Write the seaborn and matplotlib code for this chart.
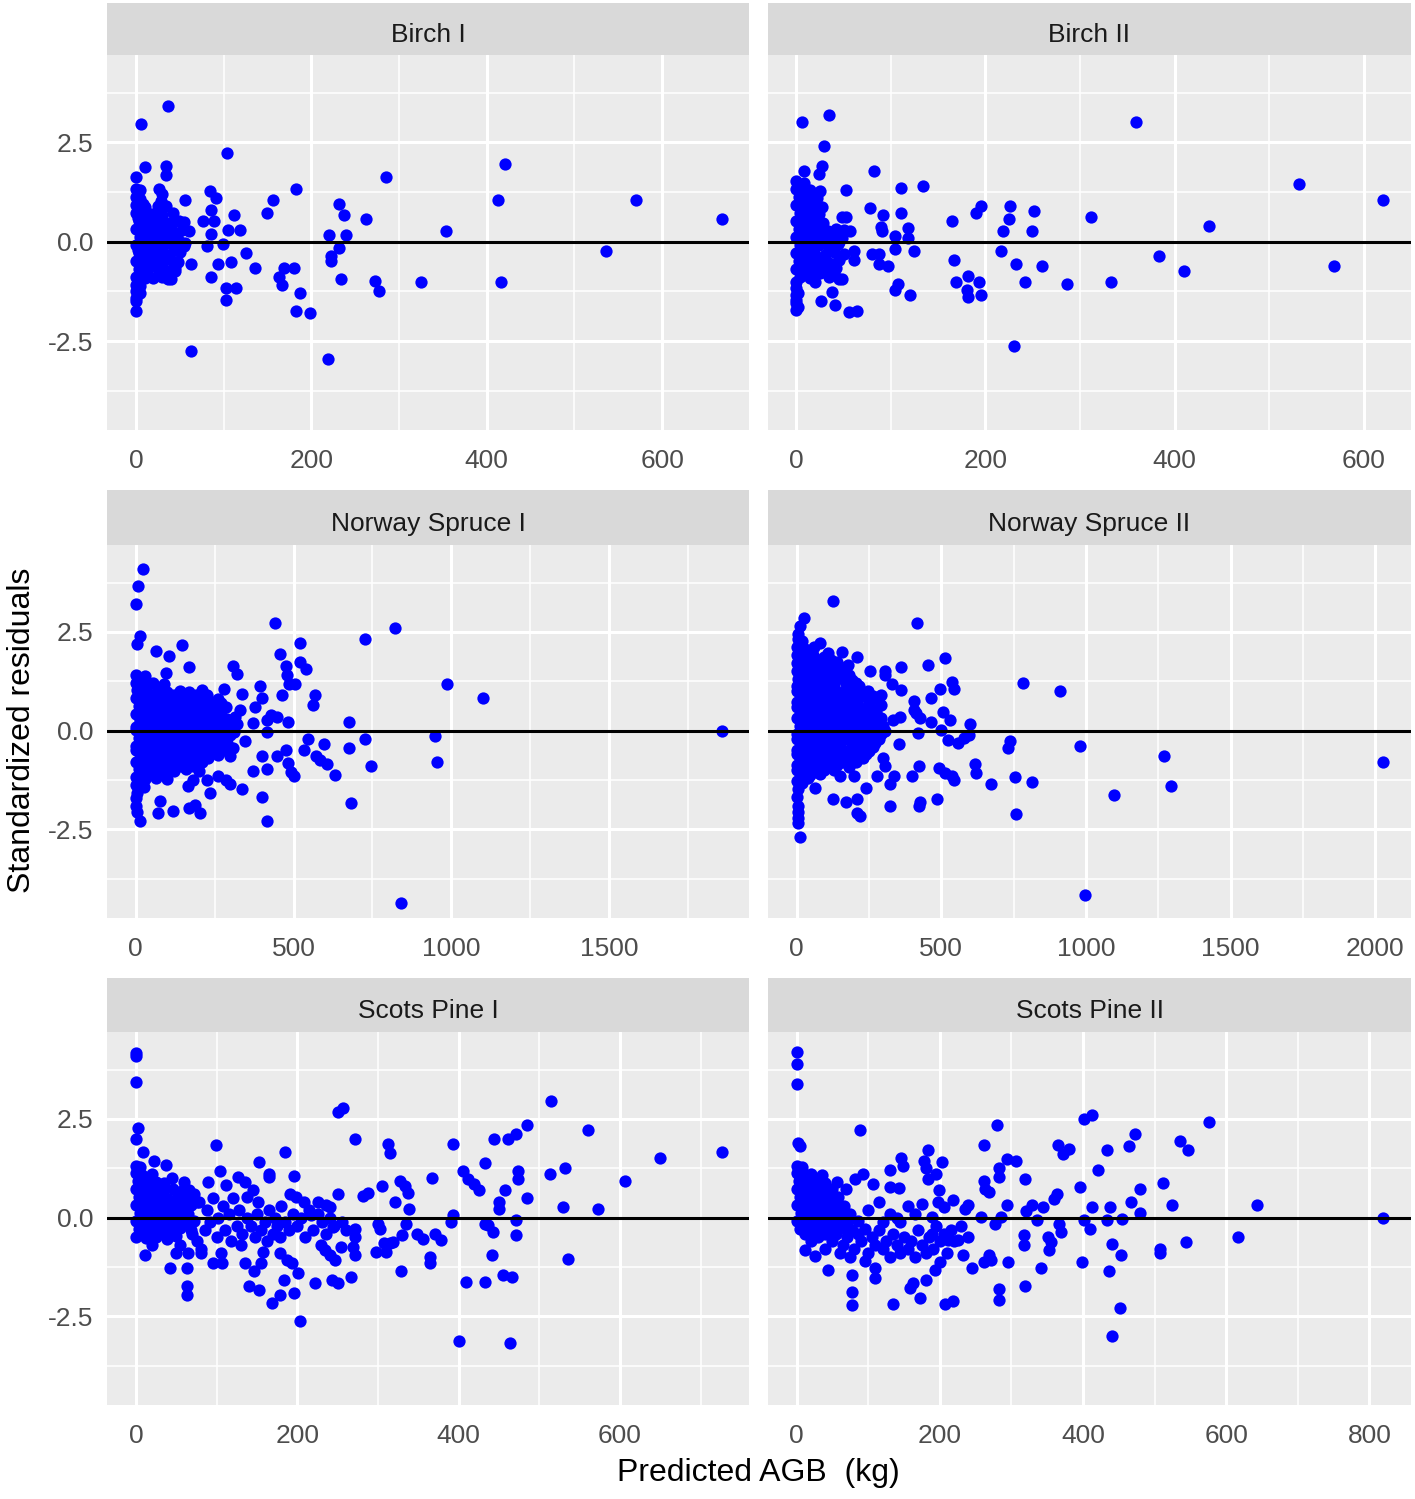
import pandas as pd
import matplotlib
matplotlib.use("Agg")
import matplotlib.pyplot as plt
import seaborn as sns

# facet titles, in row order
panels = ["Birch I", "Birch II", "Norway Spruce I", "Norway Spruce II", "Scots Pine I", "Scots Pine II"]

# (predicted AGB, standardized residual)
birch_1 = [
    (36, 3.41), (6, 2.97), (104, 2.23), (421, 1.96), (285, 1.62), (182, 1.33), (413, 1.06), (570, 1.06), (668, 0.56), (353, 0.28),
    (156, 1.06), (149, 0.73), (56, 1.06), (232, 0.96), (237, 0.67), (262, 0.56), (220, 0.17), (240, 0.17), (232, -0.15), (222, -0.36),
    (222, -0.49), (234, -0.95), (272, -1.0), (277, -1.23), (325, -1.01), (416, -1.01), (536, -0.23), (219, -2.96), (63, -2.74), (182, -1.74),
    (199, -1.80), (187, -1.29), (169, -0.66), (180, -0.66), (163, -0.89), (167, -1.08), (136, -0.67), (126, -0.28), (108, -0.51), (93, -0.56),
    (86, -0.89), (103, -1.16), (114, -1.16), (103, -1.46), (99, -0.07), (81, -0.11), (105, 0.29), (119, 0.29), (112, 0.67), (86, 0.79),
    (76, 0.52), (89, 0.52), (86, 0.19), (85, 1.28), (91, 1.11), (63, -0.56), (56, -0.03), (49, 0.52), (60, 0.27), (34, 1.91),
    (34, 1.69), (10, 1.87), (0, 1.64), (5, 1.30), (26, 1.32), (30, 1.20), (28, 1.03), (34, 0.90), (8, 0.94), (20, -0.91),
    (37, -0.95), (44, -0.74), (0, -1.25), (0, -1.5), (0, -1.75), (5, -1.29),
    (0, 1.12), (5, 1.08), (0, 1.32), (0, 0.92), (10, 0.88), (25, 0.91),
    (0, 0.72), (8, 0.68), (18, 0.71), (30, 0.67), (42, 0.73),
    (3, 0.52), (12, 0.48), (22, 0.51), (35, 0.47), (45, 0.53), (55, 0.49),
    (0, 0.32), (9, 0.28), (20, 0.31), (28, 0.27), (40, 0.33), (52, 0.29),
    (5, 0.12), (14, 0.08), (25, 0.11), (33, 0.07), (47, 0.13),
    (0, -0.08), (10, -0.12), (20, -0.09), (30, -0.13), (40, -0.07), (55, -0.11),
    (4, -0.28), (15, -0.32), (24, -0.29), (36, -0.33), (50, -0.27),
    (0, -0.48), (9, -0.52), (19, -0.49), (30, -0.53), (40, -0.47), (48, -0.51),
    (3, -0.68), (13, -0.72), (25, -0.69), (36, -0.73), (45, -0.67),
    (0, -0.88), (10, -0.92), (30, -0.89), (40, -0.93), (0, -1.08), (5, -1.12), (0, -1.42),
    (2, 0.6), (15, 0.6), (28, 0.5), (6, 0.2), (17, 0.2), (35, 0.2), (2, -0.2), (12, -0.2), (26, -0.2), (45, -0.2),
    (7, -0.4), (20, -0.4), (33, -0.4), (5, -0.6), (17, -0.6), (28, -0.8), (15, 0.0), (50, 0.0),
]

birch_2 = [
    (6, 3.01), (34, 3.20), (359, 3.01), (29, 2.42), (82, 1.79), (8, 1.79), (27, 1.91), (24, 1.70), (532, 1.46), (620, 1.06),
    (134, 1.40), (111, 1.34), (52, 1.30), (436, 0.39), (312, 0.62), (226, 0.89), (251, 0.78), (225, 0.56), (249, 0.27), (218, 0.27),
    (195, 0.90), (190, 0.72), (165, 0.51), (78, 0.84), (111, 0.73), (92, 0.67), (90, 0.37), (91, 0.27), (118, 0.35), (118, 0.10),
    (104, 0.14), (124, -0.24), (104, -0.18), (384, -0.35), (410, -0.73), (569, -0.61), (333, -1.01), (286, -1.06), (260, -0.61), (242, -1.01),
    (232, -0.56), (216, -0.24), (167, -0.45), (169, -1.01), (182, -0.87), (193, -1.01), (180, -1.21), (181, -1.39), (195, -1.33), (230, -2.62),
    (108, -1.06), (104, -1.22), (120, -1.33), (87, -0.32), (80, -0.32), (87, -0.57), (97, -0.62), (61, -0.24), (61, -0.45), (48, -0.95),
    (38, -1.27), (26, -1.50), (41, -1.59), (56, -1.78), (64, -1.74), (20, -1.01), (0, -1.16), (0, -1.35), (0, -1.55), (0, -1.72),
    (48, 0.61), (52, 0.61), (57, 0.27),
    (0, 1.52), (8, 1.48), (0, 1.32), (6, 1.28), (14, 1.31), (25, 1.27),
    (3, 1.12), (12, 1.08), (22, 1.11), (0, 0.92), (8, 0.88), (18, 0.91), (27, 0.87),
    (4, 0.72), (14, 0.68), (24, 0.71), (0, 0.52), (9, 0.48), (18, 0.51), (28, 0.47),
    (3, 0.32), (12, 0.28), (22, 0.31), (33, 0.27), (42, 0.33), (50, 0.29),
    (0, 0.12), (8, 0.08), (18, 0.11), (28, 0.07), (38, 0.13), (48, 0.09),
    (4, -0.08), (14, -0.12), (24, -0.09), (34, -0.13), (44, -0.07),
    (0, -0.28), (9, -0.32), (19, -0.29), (30, -0.33), (40, -0.27), (50, -0.31),
    (3, -0.48), (13, -0.52), (23, -0.49), (35, -0.53), (45, -0.47),
    (0, -0.68), (8, -0.72), (18, -0.69), (32, -0.73), (42, -0.67),
    (4, -0.88), (14, -0.92), (35, -0.89), (45, -0.93),
    (0, -1.02), (2, -1.3), (0, -1.48), (2, -1.65),
    (4, 1.4), (10, 1.2), (5, 1.0), (13, 0.8), (6, 0.6), (20, 0.6), (5, 0.4), (16, 0.4), (26, 0.2), (36, 0.2),
    (13, 0.0), (25, 0.0), (45, 0.0), (5, -0.2), (25, -0.4), (45, -0.4), (10, -0.6), (28, -0.6), (25, -0.8), (40, -0.8),
]

spruce_1 = [
    (23, 4.10), (8, 3.66), (1, 3.21), (441, 2.72), (822, 2.61), (727, 2.33), (519, 2.21), (147, 2.18), (13, 2.40), (3, 2.19),
    (65, 2.01), (104, 1.90), (457, 1.94), (476, 1.65), (519, 1.73), (541, 1.56), (169, 1.62), (309, 1.65), (322, 1.44), (97, 1.46),
    (480, 1.40), (487, 1.19), (506, 1.19), (986, 1.17), (1099, 0.84), (279, 1.06), (337, 0.94), (393, 1.12), (400, 0.84), (465, 0.90),
    (567, 0.90), (561, 0.64), (379, 0.60), (331, 0.52), (314, 0.35), (428, 0.39), (415, 0.27), (448, 0.35), (483, 0.23), (675, 0.23),
    (370, 0.20), (415, -0.03), (1856, 0.0), (948, -0.13), (727, -0.22), (545, -0.22), (597, -0.34), (675, -0.44), (345, -0.26), (309, -0.44),
    (299, -0.65), (400, -0.63), (448, -0.63), (476, -0.49), (532, -0.50), (571, -0.65), (584, -0.74), (606, -0.85), (484, -0.82), (493, -1.05),
    (500, -1.15), (415, -0.96), (372, -1.01), (632, -1.12), (744, -0.90), (954, -0.79), (681, -1.84), (400, -1.68), (415, -2.29), (841, -4.35),
    (337, -1.47), (286, -1.24), (299, -1.34), (260, -1.15), (227, -1.24), (234, -1.57), (165, -1.41), (182, -1.24), (78, -1.78), (71, -2.08),
    (119, -2.02), (169, -1.95), (188, -1.87), (205, -2.08), (13, -2.28), (0, -1.7), (0, -1.9), (5, -2.05),
    (0, 1.42), (30, 1.38), (0, 1.22), (25, 1.18), (55, 1.21), (90, 1.17),
    (5, 1.02), (35, 0.98), (70, 1.03), (100, 0.97), (140, 1.01), (170, 0.99), (210, 1.04),
    (0, 0.82), (30, 0.78), (60, 0.81), (95, 0.77), (125, 0.83), (160, 0.79), (195, 0.82), (230, 0.78), (260, 0.81),
    (10, 0.62), (40, 0.58), (75, 0.61), (110, 0.57), (150, 0.63), (185, 0.59), (220, 0.62), (250, 0.58), (285, 0.61),
    (0, 0.42), (30, 0.38), (60, 0.41), (90, 0.37), (120, 0.43), (160, 0.39), (200, 0.42), (235, 0.38), (270, 0.41),
    (15, 0.22), (45, 0.18), (80, 0.21), (115, 0.17), (150, 0.23), (180, 0.19), (215, 0.22), (250, 0.18), (290, 0.21), (320, 0.17),
    (0, 0.02), (30, -0.02), (60, 0.01), (95, -0.03), (130, 0.03), (165, -0.01), (200, 0.02), (240, -0.02), (275, 0.01), (310, -0.03),
    (10, -0.18), (45, -0.22), (80, -0.19), (110, -0.23), (145, -0.17), (180, -0.21), (215, -0.18), (250, -0.22), (285, -0.19),
    (0, -0.38), (30, -0.42), (65, -0.39), (100, -0.43), (135, -0.37), (170, -0.41), (205, -0.38), (240, -0.42), (275, -0.39),
    (15, -0.58), (50, -0.62), (85, -0.59), (120, -0.63), (155, -0.57), (190, -0.61), (225, -0.58), (260, -0.62),
    (0, -0.78), (35, -0.82), (70, -0.79), (105, -0.83), (140, -0.77), (175, -0.81), (210, -0.78),
    (10, -0.98), (45, -1.02), (80, -0.99), (120, -1.03), (160, -0.97), (200, -1.01),
    (0, -1.18), (30, -1.22), (65, -1.19), (100, -1.23), (0, -1.38), (25, -1.42), (5, -1.58),
    (15, 0.9), (50, 0.9), (85, 0.9), (120, 0.9), (155, 0.9), (190, 0.9), (225, 0.9),
    (20, 0.7), (55, 0.7), (90, 0.7), (130, 0.7), (170, 0.7), (205, 0.7), (240, 0.7), (270, 0.7),
    (20, 0.5), (55, 0.5), (95, 0.5), (135, 0.5), (170, 0.5), (205, 0.5), (240, 0.5), (265, 0.5),
    (15, 0.3), (45, 0.3), (75, 0.3), (105, 0.3), (140, 0.3), (180, 0.3), (220, 0.3), (255, 0.3), (290, 0.3),
    (0, 0.1), (30, 0.1), (65, 0.1), (100, 0.1), (135, 0.1), (165, 0.1), (200, 0.1), (235, 0.1), (270, 0.1), (305, 0.1),
    (20, -0.1), (55, -0.1), (90, -0.1), (125, -0.1), (160, -0.1), (195, -0.1), (230, -0.1), (265, -0.1), (300, -0.1),
    (15, -0.3), (50, -0.3), (85, -0.3), (120, -0.3), (155, -0.3), (190, -0.3), (225, -0.3), (260, -0.3), (290, -0.3),
    (0, -0.5), (35, -0.5), (70, -0.5), (105, -0.5), (140, -0.5), (175, -0.5), (210, -0.5), (245, -0.5), (280, -0.5),
    (20, -0.7), (55, -0.7), (90, -0.7), (125, -0.7), (160, -0.7), (195, -0.7), (230, -0.7),
    (25, -0.9), (60, -0.9), (100, -0.9), (140, -0.9), (180, -0.9), (15, -1.1), (50, -1.1), (85, -1.1),
]

spruce_2 = [
    (125, 3.28), (415, 2.72), (25, 2.84), (11, 2.65), (3, 2.46), (82, 2.21), (156, 2.0), (208, 1.86), (177, 1.67), (110, 1.96),
    (116, 1.69), (513, 1.84), (453, 1.67), (361, 1.62), (255, 1.50), (304, 1.52), (307, 1.40), (782, 1.22), (910, 1.0), (330, 1.19),
    (361, 1.04), (538, 1.23), (545, 1.06), (496, 1.06), (463, 0.84), (404, 0.74), (414, 0.44), (425, 0.31), (404, 0.52), (290, 0.90),
    (290, 0.64), (507, 0.48), (531, 0.28), (463, 0.23), (333, 0.27), (357, 0.35), (598, 0.18), (498, 0.03), (421, -0.07), (524, -0.23),
    (559, -0.32), (580, -0.19), (595, -0.11), (736, -0.26), (729, -0.44), (980, -0.39), (1269, -0.63), (2025, -0.79), (1293, -1.40), (1095, -1.62),
    (756, -1.18), (814, -1.29), (673, -1.35), (758, -2.12), (995, -4.17), (616, -0.84), (620, -1.07), (493, -0.95), (513, -1.07), (538, -1.15),
    (545, -1.24), (422, -0.90), (399, -1.15), (354, -0.33), (337, -1.15), (323, -1.34), (241, -1.45), (323, -1.91), (425, -1.81), (422, -1.91),
    (484, -1.74), (125, -1.74), (170, -1.81), (210, -1.74), (210, -2.08), (219, -2.16), (64, -1.45), (120, -0.69), (297, -0.69), (304, -0.90),
    (276, -1.15), (149, -1.15), (198, -1.15), (3, -1.91), (3, -2.05), (3, -2.2), (3, -2.33), (10, -2.68),
    (5, 2.32), (20, 2.28), (0, 2.12), (30, 2.08), (60, 2.11),
    (0, 1.92), (25, 1.88), (55, 1.91), (95, 1.87),
    (0, 1.72), (30, 1.68), (65, 1.71), (100, 1.67), (140, 1.73),
    (0, 1.52), (25, 1.48), (55, 1.51), (90, 1.47), (125, 1.53), (165, 1.49),
    (5, 1.32), (35, 1.28), (70, 1.31), (110, 1.27), (150, 1.33), (190, 1.29),
    (0, 1.12), (30, 1.08), (60, 1.11), (95, 1.07), (130, 1.13), (175, 1.09), (215, 1.12),
    (10, 0.92), (40, 0.88), (75, 0.91), (110, 0.87), (150, 0.93), (190, 0.89), (230, 0.92), (265, 0.88),
    (0, 0.72), (30, 0.68), (65, 0.71), (100, 0.67), (135, 0.73), (170, 0.69), (210, 0.72), (250, 0.68),
    (15, 0.52), (45, 0.48), (80, 0.51), (115, 0.47), (155, 0.53), (195, 0.49), (235, 0.52), (275, 0.48),
    (0, 0.32), (30, 0.28), (60, 0.31), (95, 0.27), (130, 0.33), (170, 0.29), (210, 0.32), (250, 0.28), (290, 0.31),
    (10, 0.12), (40, 0.08), (75, 0.11), (110, 0.07), (145, 0.13), (185, 0.09), (225, 0.12), (265, 0.08), (300, 0.11),
    (0, -0.08), (30, -0.12), (65, -0.09), (100, -0.13), (135, -0.07), (175, -0.11), (215, -0.08), (255, -0.12), (290, -0.09),
    (15, -0.28), (45, -0.32), (80, -0.29), (115, -0.33), (150, -0.27), (190, -0.31), (230, -0.28), (270, -0.32),
    (0, -0.48), (30, -0.52), (60, -0.49), (95, -0.53), (130, -0.47), (170, -0.51), (210, -0.48), (250, -0.52),
    (10, -0.68), (40, -0.72), (75, -0.69), (110, -0.73), (150, -0.67), (190, -0.71), (230, -0.68),
    (0, -0.88), (30, -0.92), (65, -0.89), (100, -0.93), (140, -0.87), (180, -0.91),
    (10, -1.08), (45, -1.12), (80, -1.09), (0, -1.28), (20, -1.32), (5, -1.48), (0, -1.68),
    (10, 2.0), (45, 2.0), (15, 1.8), (45, 1.8), (80, 1.8), (120, 1.8),
    (10, 1.6), (40, 1.6), (75, 1.6), (110, 1.6), (150, 1.6),
    (15, 1.4), (45, 1.4), (80, 1.4), (110, 1.4), (145, 1.4), (180, 1.4),
    (20, 1.2), (50, 1.2), (85, 1.2), (130, 1.2), (170, 1.2), (205, 1.2),
    (0, 1.0), (25, 1.0), (55, 1.0), (90, 1.0), (125, 1.0), (165, 1.0), (205, 1.0), (245, 1.0),
    (20, 0.8), (55, 0.8), (90, 0.8), (130, 0.8), (170, 0.8), (210, 0.8), (245, 0.8), (280, 0.8),
    (0, 0.6), (30, 0.6), (60, 0.6), (95, 0.6), (135, 0.6), (175, 0.6), (215, 0.6), (255, 0.6),
    (10, 0.4), (45, 0.4), (80, 0.4), (115, 0.4), (150, 0.4), (190, 0.4), (230, 0.4), (270, 0.4),
    (20, 0.2), (55, 0.2), (90, 0.2), (125, 0.2), (165, 0.2), (205, 0.2), (245, 0.2), (285, 0.2),
    (15, 0.0), (50, 0.0), (85, 0.0), (120, 0.0), (160, 0.0), (200, 0.0), (240, 0.0), (275, 0.0), (305, 0.0),
    (0, -0.2), (30, -0.2), (65, -0.2), (100, -0.2), (135, -0.2), (170, -0.2), (210, -0.2), (250, -0.2), (285, -0.2),
    (15, -0.4), (45, -0.4), (80, -0.4), (115, -0.4), (150, -0.4), (190, -0.4), (230, -0.4), (265, -0.4),
    (0, -0.6), (25, -0.6), (55, -0.6), (90, -0.6), (125, -0.6), (160, -0.6), (200, -0.6), (240, -0.6),
    (15, -0.8), (50, -0.8), (85, -0.8), (120, -0.8), (160, -0.8), (205, -0.8),
    (0, -1.0), (25, -1.0), (60, -1.0), (95, -1.0), (130, -1.0), (10, -1.2), (40, -1.2),
]

pine_1 = [
    (0, 4.16), (0, 4.08), (0, 3.43), (2, 2.28), (0, 1.98), (9, 1.67), (99, 1.83), (185, 1.67), (250, 2.67), (257, 2.78),
    (271, 1.98), (515, 2.95), (485, 2.34), (471, 2.11), (461, 1.98), (444, 1.98), (560, 2.21), (393, 1.87), (312, 1.86), (315, 1.65),
    (726, 1.67), (650, 1.50), (606, 0.94), (433, 1.39), (532, 1.27), (513, 1.11), (474, 1.19), (474, 0.98), (405, 1.19), (411, 0.98),
    (419, 0.85), (425, 0.71), (457, 0.71), (367, 1.0), (327, 0.92), (333, 0.79), (337, 0.62), (338, 0.23), (321, 0.39), (305, 0.81),
    (282, 0.54), (288, 0.62), (250, 0.60), (485, 0.50), (450, 0.39), (450, 0.23), (529, 0.27), (573, 0.23), (393, 0.06), (390, -0.11),
    (471, -0.07), (471, -0.44), (433, -0.15), (437, -0.19), (443, -0.36), (535, -1.05), (441, -0.95), (455, -1.45), (466, -1.51), (409, -1.62),
    (433, -1.62), (400, -3.12), (464, -3.16), (365, -1.0), (365, -1.14), (348, -0.40), (356, -0.53), (371, -0.40), (378, -0.57), (329, -1.34),
    (330, -0.44), (335, -0.15), (300, -0.15), (302, -0.28), (307, -0.65), (315, -0.65), (319, -0.61), (297, -0.86), (310, -0.86), (272, -0.28),
    (272, -0.49), (269, -0.74), (272, -0.95), (254, -0.74), (267, -1.51), (243, -1.57), (250, -1.66), (222, -1.66), (229, -0.69), (234, -0.82),
    (241, -0.95), (247, -1.07), (241, 0.27), (244, -0.23), (226, 0.39), (236, 0.31), (217, 0.06), (208, 0.39), (196, 1.06), (191, 0.60),
    (198, 0.52), (203, -2.62), (201, -1.41), (196, -1.91), (179, -1.95), (168, -2.16), (184, -1.57), (153, -1.82), (140, -1.74), (178, -0.90),
    (187, -1.07), (193, -1.15), (157, -0.86), (155, -1.15), (146, -1.36), (135, -1.15), (153, 1.40), (165, 1.10), (165, 1.02), (127, 1.02),
    (135, 0.90), (145, 0.69), (137, 0.52), (151, 0.39), (89, 0.90), (104, 1.19), (112, 0.84), (66, 0.69), (75, 0.39), (22, 1.44),
    (37, 1.34), (63, -1.28), (63, -1.72), (63, -1.95), (42, -1.28), (11, -0.95), (20, -0.69), (96, -1.15), (107, -1.15), (81, -0.90),
    (0, 1.32), (5, 1.28), (0, 1.12), (8, 1.08), (20, 1.11),
    (2, 0.92), (12, 0.88), (25, 0.91), (35, 0.87),
    (0, 0.72), (10, 0.68), (22, 0.71), (34, 0.67), (46, 0.73), (58, 0.69),
    (4, 0.52), (15, 0.48), (27, 0.51), (40, 0.47), (52, 0.53), (62, 0.49),
    (0, 0.32), (10, 0.28), (21, 0.31), (33, 0.27), (45, 0.33), (57, 0.29), (68, 0.31),
    (5, 0.12), (16, 0.08), (28, 0.11), (40, 0.07), (52, 0.13), (64, 0.09),
    (0, -0.08), (11, -0.12), (23, -0.09), (35, -0.13), (47, -0.07), (60, -0.11), (72, -0.08),
    (4, -0.28), (16, -0.32), (28, -0.29), (40, -0.33), (55, -0.27), (68, -0.31),
    (0, -0.48), (12, -0.52), (25, -0.49), (38, -0.53), (50, -0.47),
    (70, -0.4), (75, -0.6), (80, -0.8), (85, -0.3), (88, 0.2), (92, -0.1), (95, 0.5), (100, -0.5), (102, 0.0), (105, -0.9),
    (108, 0.3), (110, -0.3), (115, 0.1), (118, -0.6), (120, 0.5), (125, -0.2), (128, 0.2), (130, -0.7), (132, -0.4), (138, 0.0),
    (142, -0.2), (148, -0.5), (150, 0.1), (155, -0.3), (160, -0.1), (162, -0.6), (165, 0.2), (170, -0.4), (172, 0.0), (175, -0.2),
    (180, 0.3), (178, -0.5), (185, -0.1), (190, -0.3), (195, 0.1), (200, -0.2), (205, 0.0), (210, -0.5), (215, 0.2), (220, -0.3),
    (225, 0.1), (230, -0.1), (235, -0.4), (240, 0.0), (245, -0.2), (255, -0.1), (260, -0.3), (65, -0.9), (60, 0.9), (72, 0.6),
    (78, 0.4), (55, -0.7), (50, -0.9), (45, 1.0),
    (6, 1.0), (16, 0.8), (28, 0.6), (8, 0.6), (20, 0.4), (32, 0.4), (45, 0.2), (8, 0.2), (22, 0.0), (36, 0.0),
    (50, 0.0), (10, -0.2), (30, -0.2), (48, -0.2), (20, -0.4), (35, -0.4), (6, -0.4),
]

pine_2 = [
    (0, 4.20), (0, 3.88), (0, 3.38), (2, 1.90), (5, 1.82), (89, 2.21), (280, 2.34), (261, 1.83), (183, 1.71), (401, 2.50),
    (412, 2.61), (576, 2.43), (473, 2.11), (464, 1.82), (536, 1.94), (547, 1.71), (434, 1.71), (365, 1.83), (372, 1.61), (381, 1.74),
    (294, 1.48), (306, 1.44), (282, 1.27), (282, 1.04), (421, 1.21), (396, 0.77), (479, 0.73), (511, 0.88), (524, 0.33), (643, 0.33),
    (319, 0.98), (261, 0.94), (263, 0.73), (269, 0.65), (364, 0.60), (359, 0.48), (467, 0.39), (480, 0.12), (437, 0.27), (434, -0.07),
    (412, 0.27), (454, -0.03), (819, 0.0), (616, -0.50), (544, -0.61), (508, -0.78), (508, -0.90), (440, -0.67), (453, -0.95), (399, -1.11),
    (436, -1.34), (452, -2.28), (440, -3.0), (401, -0.07), (410, -0.28), (366, -0.15), (369, -0.36), (351, -0.49), (355, -0.61), (352, -0.82),
    (317, -0.44), (317, -0.69), (335, -0.07), (321, 0.18), (329, 0.31), (344, 0.27), (294, 0.33), (286, 0.02), (277, -0.17), (258, 0.02),
    (295, -1.11), (269, -0.95), (262, -1.11), (272, -1.07), (245, -1.28), (319, -1.74), (341, -1.28), (282, -1.81), (282, -2.08), (219, -2.12),
    (207, -2.18), (172, -2.03), (135, -2.18), (159, -1.78), (163, -1.66), (180, -1.57), (193, -1.32), (200, -1.11), (232, -0.95), (226, -0.57),
    (212, -0.57), (206, -0.40), (189, -0.40), (240, 0.31), (235, 0.23), (218, 0.46), (206, 0.27), (198, 0.39), (189, 0.02), (175, 0.35),
    (199, 0.69), (195, 1.10), (203, 1.42), (183, 0.98), (178, 1.44), (180, 1.27), (149, 1.31), (146, 1.50), (131, 1.21), (131, 0.77),
    (143, 0.75), (106, 0.85), (93, 1.10), (82, 0.98), (57, 0.90), (69, 0.73), (77, -1.87), (77, -2.20), (110, -1.28), (110, -1.53),
    (44, -1.32), (78, -1.45), (11, -0.82), (26, -0.98),
    (0, 1.32), (8, 1.28), (0, 1.12), (10, 1.08), (20, 1.11), (35, 1.07),
    (3, 0.92), (14, 0.88), (26, 0.91), (40, 0.87),
    (0, 0.72), (11, 0.68), (23, 0.71), (36, 0.67), (50, 0.73),
    (5, 0.52), (17, 0.48), (30, 0.51), (44, 0.47), (58, 0.53),
    (0, 0.32), (12, 0.28), (25, 0.31), (38, 0.27), (52, 0.33), (66, 0.29),
    (6, 0.12), (19, 0.08), (32, 0.11), (46, 0.07), (60, 0.13), (75, 0.09),
    (0, -0.08), (13, -0.12), (26, -0.09), (40, -0.13), (55, -0.07), (70, -0.11), (85, -0.08),
    (5, -0.28), (18, -0.32), (32, -0.29), (46, -0.33), (62, -0.27), (78, -0.31), (95, -0.28),
    (20, -0.6), (30, -0.5), (40, -0.8), (50, -0.6), (55, -0.4), (60, -0.9), (65, -0.7), (70, -0.5), (75, -1.0), (80, -0.8),
    (85, -0.4), (90, -0.6), (95, -1.1), (100, -0.9), (105, -0.5), (110, -0.7), (115, -0.3), (120, -0.8), (125, -0.6), (130, -1.0),
    (135, -0.4), (140, -0.7), (145, -0.9), (150, -0.5), (155, -0.8), (160, -0.6), (165, -1.0), (170, -0.3), (175, -0.7), (180, -0.9),
    (185, -0.5), (190, -0.8), (195, -0.2), (200, -0.6), (210, -0.9), (215, -0.3), (220, -0.6), (230, -0.2), (240, -0.5), (100, 0.2),
    (115, 0.4), (130, 0.1), (145, -0.1), (155, 0.3), (165, 0.1), (120, -0.1), (140, 0.0),
    (5, 1.0), (18, 1.0), (8, 0.8), (30, 0.8), (20, 0.6), (42, 0.6), (10, 0.4), (35, 0.4), (50, 0.4), (18, 0.2),
    (45, 0.2), (62, 0.2), (8, 0.0), (30, 0.0), (52, 0.0), (22, -0.2), (48, -0.2), (70, -0.2), (12, -0.4), (40, -0.4),
]

panel_points = [birch_1, birch_2, spruce_1, spruce_2, pine_1, pine_2]

# free x scales
x_limits = [(-33, 699), (-30, 650), (-91, 1943), (-99, 2123), (-36, 760), (-40, 858)]
x_steps = [200, 200, 500, 500, 200, 200]
y_limits = (-4.74, 4.70)
y_major = [-2.5, 0.0, 2.5]
y_minor = [-3.75, -1.25, 1.25, 3.75]

sns.set_theme(style="darkgrid")
plt.rcParams["font.family"] = ["Liberation Sans", "DejaVu Sans"]

W, H = 1415, 1499
fig = plt.figure(figsize=(W / 100, H / 100), dpi=100)

# pixel boxes of the panels
cols = [(107, 749), (768, 1411)]
rows = [(3, 55, 430), (490, 545, 918), (978, 1032, 1405)]

for i, name in enumerate(panels):
    r, c = divmod(i, 2)
    left, right = cols[c]
    strip_top, top, bottom = rows[r]

    ax = fig.add_axes([left / W, 1 - bottom / H, (right - left) / W, (bottom - top) / H])
    df = pd.DataFrame(panel_points[i], columns=["agb", "resid"])
    sns.scatterplot(data=df, x="agb", y="resid", ax=ax, color="#0000FF",
                    s=78, linewidth=0, zorder=3)
    ax.axhline(0, color="black", lw=2.2, zorder=4)

    ax.set_facecolor("#EBEBEB")
    step = x_steps[i]
    majors = [v for v in range(0, int(x_limits[i][1]) + 1, step)]
    minors = [v + step / 2 for v in range(0, int(x_limits[i][1]) + 1, step)]
    ax.set_xticks(majors)
    ax.set_xticks(minors, minor=True)
    ax.set_yticks(y_major)
    ax.set_yticks(y_minor, minor=True)
    ax.set_xticklabels([str(v) for v in majors])
    ax.set_yticklabels(["-2.5", "0.0", "2.5"])
    ax.set_xlim(*x_limits[i])
    ax.set_ylim(*y_limits)
    ax.grid(which="major", color="white", lw=2.2)
    ax.grid(which="minor", color="white", lw=1.1)
    ax.set_axisbelow(True)
    for sp in ax.spines.values():
        sp.set_visible(False)
    ax.tick_params(which="minor", length=0)
    ax.tick_params(axis="x", which="major", length=5, width=1.6, color="#333333",
                   labelsize=19, labelcolor="#4D4D4D", pad=9)
    ax.tick_params(axis="y", which="major", length=5, width=1.6, color="#333333",
                   labelsize=19, labelcolor="#4D4D4D", pad=5)
    if c == 1:
        ax.tick_params(axis="y", left=False, labelleft=False)
    ax.set_xlabel("")
    ax.set_ylabel("")

    strip = fig.add_axes([left / W, 1 - top / H, (right - left) / W, (top - strip_top) / H])
    strip.set_facecolor("#D9D9D9")
    strip.set_xticks([])
    strip.set_yticks([])
    strip.grid(False)
    for sp in strip.spines.values():
        sp.set_visible(False)
    strip.text(0.5, 0.39, name, ha="center", va="center", fontsize=19, color="#1A1A1A",
               transform=strip.transAxes)

fig.text(22 / W, 1 - 730 / H, "Standardized residuals", rotation=90, ha="center", va="center",
         fontsize=23, color="black")
fig.text(758 / W, 1 - 1473 / H, "Predicted AGB  (kg)", ha="center", va="center",
         fontsize=23, color="black")

fig.savefig("out.png", dpi=100, facecolor="white")
